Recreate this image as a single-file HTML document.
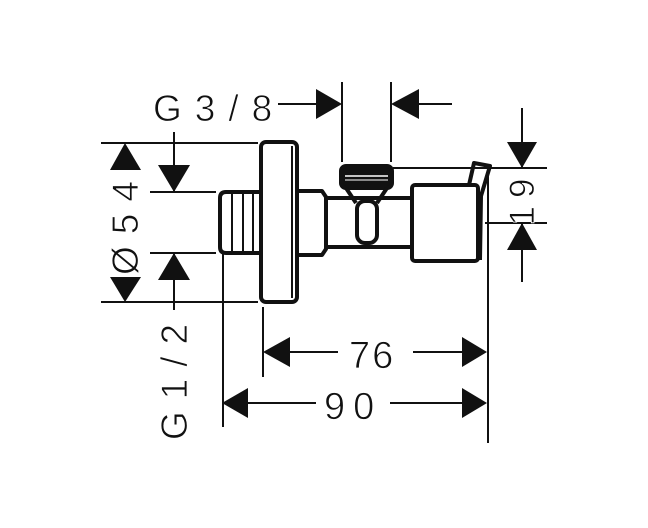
<!DOCTYPE html>
<html><head><style>
html,body{margin:0;padding:0;background:#fff;}
svg{display:block;}
text{font-family:"Liberation Sans",sans-serif;fill:#111;stroke:#fff;stroke-width:0.8;}
</style></head><body>
<svg width="648" height="528" viewBox="0 0 648 528" xmlns="http://www.w3.org/2000/svg">
<g stroke="#111" stroke-width="2" fill="none">
  <line x1="101" y1="143" x2="258" y2="143"/>
  <line x1="101" y1="302" x2="258" y2="302"/>
  <line x1="174" y1="132" x2="174" y2="192"/>
  <line x1="150" y1="192" x2="216" y2="192"/>
  <line x1="150" y1="253" x2="216" y2="253"/>
  <line x1="174" y1="253" x2="174" y2="310"/>
  <line x1="278" y1="104" x2="316" y2="104"/>
  <line x1="342" y1="82" x2="342" y2="162"/>
  <line x1="391" y1="82" x2="391" y2="162"/>
  <line x1="419" y1="104" x2="452" y2="104"/>
  <line x1="393" y1="168" x2="547" y2="168"/>
  <line x1="485" y1="223" x2="547" y2="223"/>
  <line x1="522" y1="108" x2="522" y2="168"/>
  <line x1="522" y1="223" x2="522" y2="282"/>
  <line x1="223" y1="253" x2="223" y2="427"/>
  <line x1="263" y1="307" x2="263" y2="377"/>
  <line x1="488" y1="168" x2="488" y2="443"/>
  <line x1="290" y1="352" x2="338" y2="352"/>
  <line x1="413" y1="352" x2="462" y2="352"/>
  <line x1="248" y1="403" x2="316" y2="403"/>
  <line x1="390" y1="403" x2="462" y2="403"/>
</g>
<g fill="#111">
  <polygon points="125,143 110,170 141,170"/>
  <polygon points="125,302 110,277 141,277"/>
  <polygon points="174,192 158,165 190,165"/>
  <polygon points="174,253 158,280 190,280"/>
  <polygon points="342,104 316,89 316,119"/>
  <polygon points="391,104 419,89 419,119"/>
  <polygon points="522,168 507,142 537,142"/>
  <polygon points="522,223 507,250 537,250"/>
  <polygon points="263,352 290,337 290,367"/>
  <polygon points="487,352 462,337 462,367"/>
  <polygon points="222,403 248,388 248,418"/>
  <polygon points="487,403 462,388 462,418"/>
</g>
<g stroke="#111" stroke-width="4" fill="none" stroke-linejoin="round">
  <path d="M262,192 L226,192 Q220,192 220,198 L220,247 Q220,253 226,253 L262,253"/>
  <line x1="232" y1="193" x2="232" y2="252" stroke-width="2"/>
  <line x1="243" y1="193" x2="243" y2="252" stroke-width="2"/>
  <line x1="253" y1="193" x2="253" y2="252" stroke-width="2"/>
  <rect x="261" y="142" width="36" height="160" rx="5"/>
  <line x1="292" y1="146" x2="292" y2="298" stroke-width="2"/>
  <path d="M297,191 L322,191 L326,197 L326,249 L322,255 L297,255"/>
  <line x1="326" y1="198" x2="411" y2="198"/>
  <line x1="326" y1="247" x2="411" y2="247"/>
  <rect x="341" y="166" width="51" height="22" rx="5" fill="#111"/>
  <path d="M346,188 L356,203 M387,188 L377,203"/>
  <rect x="357" y="201" width="20" height="42" rx="8"/>
  <rect x="412" y="185" width="66" height="76" rx="3"/>
  <path d="M469,185 L474,163 L490,166 L481,196 L480,260"/>
</g>
<line x1="345" y1="176" x2="388" y2="176" stroke="#fff" stroke-width="1.5"/>
<line x1="345" y1="180" x2="388" y2="180" stroke="#fff" stroke-width="1"/>
<text x="153" y="121" font-size="37" letter-spacing="13">G3/8</text>
<text x="349" y="368" font-size="38" letter-spacing="2">76</text>
<text x="324" y="419" font-size="38" letter-spacing="8">90</text>
<text transform="translate(138,222) rotate(-90)" font-size="37" text-anchor="middle" letter-spacing="12">Ø54</text>
<text transform="translate(187,376) rotate(-90)" font-size="37" text-anchor="middle" letter-spacing="12">G1/2</text>
<text transform="translate(534,198) rotate(-90)" font-size="35" text-anchor="middle" letter-spacing="8">19</text>
</svg>
</body></html>
